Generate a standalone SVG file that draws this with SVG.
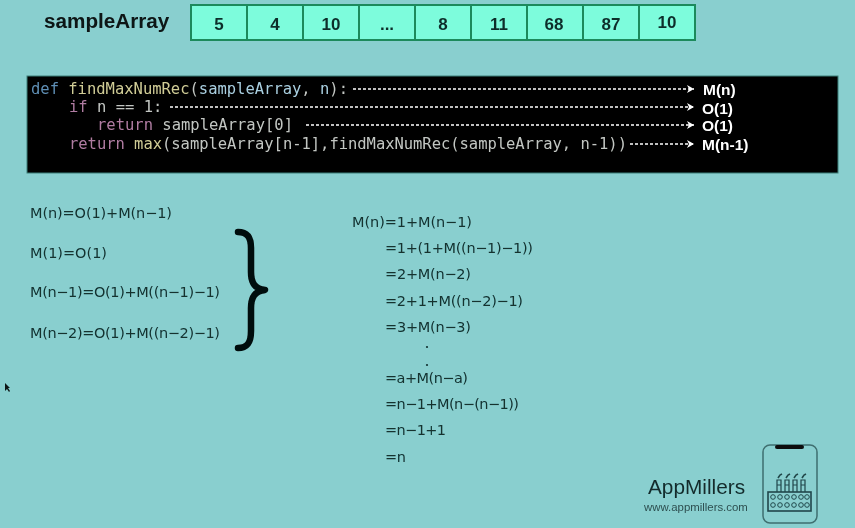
<svg xmlns="http://www.w3.org/2000/svg" width="855" height="528" viewBox="0 0 855 528">
<style>
.cell{fill:#7dfcdc;stroke:#1f8a5c;stroke-width:2}
.num{font:bold 17px "Liberation Sans",Arial,sans-serif;fill:#0e2f2c;text-anchor:middle}
.code{font:15.5px "DejaVu Sans Mono",monospace;fill:#c2c6c2;white-space:pre}
.k{fill:#b07ca2}.f{fill:#d0cc96}.b{fill:#5f8fb5}.v{fill:#a9cfe0}
.lab{font:bold 15.5px "Liberation Sans",Arial,sans-serif;fill:#fff}
.eq{font:14.5px "DejaVu Sans",sans-serif;fill:#12302f}
.dash{stroke:#fff;stroke-width:1.5;stroke-dasharray:3 2;fill:none;marker-end:url(#ah)}
</style>
<defs>
<marker id="ah" markerUnits="userSpaceOnUse" markerWidth="9" markerHeight="9" refX="7" refY="4" orient="auto"><path d="M0 0L7 4L0 8L2 4Z" fill="#fff"/></marker>
<filter id="soft" filterUnits="userSpaceOnUse" x="0" y="0" width="855" height="528"><feGaussianBlur stdDeviation="0.4"/></filter>
</defs>
<rect width="855" height="528" fill="#89cfcf"/>
<g filter="url(#soft)">
<text x="44" y="28" style="font:bold 20.7px 'Liberation Sans',Arial,sans-serif;fill:#0b1414">sampleArray</text>
<g id="array">
<rect class="cell" x="191" y="5" width="56" height="35"/><rect class="cell" x="247" y="5" width="56" height="35"/><rect class="cell" x="303" y="5" width="56" height="35"/><rect class="cell" x="359" y="5" width="56" height="35"/><rect class="cell" x="415" y="5" width="56" height="35"/><rect class="cell" x="471" y="5" width="56" height="35"/><rect class="cell" x="527" y="5" width="56" height="35"/><rect class="cell" x="583" y="5" width="56" height="35"/><rect class="cell" x="639" y="5" width="56" height="35"/>
<text class="num" x="219" y="30">5</text><text class="num" x="275" y="30">4</text><text class="num" x="331" y="30">10</text><text class="num" x="387" y="30">...</text><text class="num" x="443" y="30">8</text><text class="num" x="499" y="30">11</text><text class="num" x="554" y="30">68</text><text class="num" x="611" y="30">87</text><text class="num" x="667" y="28">10</text>
</g>
<g id="code-box">
<rect x="27" y="76" width="811" height="97" fill="#010101" stroke="#3d7f78" stroke-width="1"/>
<text class="code" x="31" y="94" textLength="317"><tspan class="b">def</tspan> <tspan class="f">findMaxNumRec</tspan>(<tspan class="v">sampleArray</tspan>, <tspan class="v">n</tspan>):</text>
<text class="code" x="69" y="112"><tspan class="k">if</tspan> n == 1:</text>
<text class="code" x="97" y="130"><tspan class="k">return</tspan> sampleArray[0]</text>
<text class="code" x="69" y="149" textLength="558"><tspan class="k">return</tspan> <tspan class="f">max</tspan>(sampleArray[n-1],findMaxNumRec(sampleArray, n-1))</text>
<text class="lab" x="703" y="95">M(n)</text>
<text class="lab" x="702" y="114">O(1)</text>
<text class="lab" x="702" y="131">O(1)</text>
<text class="lab" x="702" y="150">M(n-1)</text>
</g>
<g id="connectors">
<line class="dash" x1="353" y1="89" x2="694" y2="89"/>
<line class="dash" x1="170" y1="107" x2="694" y2="107"/>
<line class="dash" x1="306" y1="125" x2="694" y2="125"/>
<line class="dash" x1="630" y1="144" x2="694" y2="144"/>
</g>
<g id="equations-left">
<text class="eq" x="30" y="218" textLength="142">M(n)=O(1)+M(n−1)</text>
<text class="eq" x="30" y="258" textLength="77">M(1)=O(1)</text>
<text class="eq" x="30" y="297" textLength="190">M(n−1)=O(1)+M((n−1)−1)</text>
<text class="eq" x="30" y="338" textLength="190">M(n−2)=O(1)+M((n−2)−1)</text>
</g>
<path id="brace" d="M238 232C248 232 251 238 251 248L251 272C251 283 255 289 265 290C255 291 251 297 251 308L251 331C251 342 248 348 238 348" fill="none" stroke="#030a0a" stroke-width="6.5" stroke-linecap="round" stroke-linejoin="round"/>
<g id="equations-right">
<text class="eq" x="352" y="227" textLength="120">M(n)=1+M(n−1)</text>
<text class="eq" x="385" y="253" textLength="148">=1+(1+M((n−1)−1))</text>
<text class="eq" x="385" y="279" textLength="86">=2+M(n−2)</text>
<text class="eq" x="385" y="306" textLength="138">=2+1+M((n−2)−1)</text>
<text class="eq" x="385" y="332" textLength="86">=3+M(n−3)</text>
<circle cx="427" cy="347" r="1.1" fill="#12302f"/><circle cx="427" cy="365" r="1.1" fill="#12302f"/>
<text class="eq" x="385" y="383" textLength="83">=a+M(n−a)</text>
<text class="eq" x="385" y="409" textLength="134">=n−1+M(n−(n−1))</text>
<text class="eq" x="385" y="435" textLength="61">=n−1+1</text>
<text class="eq" x="385" y="462" textLength="21">=n</text>
</g>
<g id="logo">
<text x="648" y="494" style="font:20.8px 'Liberation Sans',Arial,sans-serif;fill:#122b2c">AppMillers</text>
<text x="644" y="511" style="font:11.4px 'Liberation Sans',Arial,sans-serif;fill:#2d4f50">www.appmillers.com</text>
<rect x="763" y="445" width="54" height="78" rx="7" fill="none" stroke="#3f6f70" stroke-width="1.5"/>
<rect x="775" y="445" width="29" height="4" rx="2" fill="#0a0f0f"/>
<g fill="none" stroke="#20474a" stroke-width="1.2">
<path d="M777 492v-12h4v12M785 492v-12h4v12M793 492v-12h4v12M801 492v-12h4v12"/>
<path d="M777 485h4M785 485h4M793 485h4M801 485h4"/>
<path d="M778 478l2-3l2-1M786 478l2-3l2-1M794 478l2-3l2-1M802 478l2-3l2-1" stroke-width="1.6"/>
<rect x="768" y="492" width="43" height="19" stroke-width="1.6"/>
<g stroke-width="1"><circle cx="773" cy="497" r="2.3"/><circle cx="780" cy="497" r="2.3"/><circle cx="787" cy="497" r="2.3"/><circle cx="794" cy="497" r="2.3"/><circle cx="801" cy="497" r="2.3"/><circle cx="807" cy="497" r="2.3"/><circle cx="773" cy="505" r="2.3"/><circle cx="780" cy="505" r="2.3"/><circle cx="787" cy="505" r="2.3"/><circle cx="794" cy="505" r="2.3"/><circle cx="801" cy="505" r="2.3"/><circle cx="807" cy="505" r="2.3"/></g>
</g>
</g>
<path id="cursor" d="M5 383L5 391L7 389L9 392L10 391L8 388L10 388Z" fill="#0b1414"/>
</g>
</svg>
